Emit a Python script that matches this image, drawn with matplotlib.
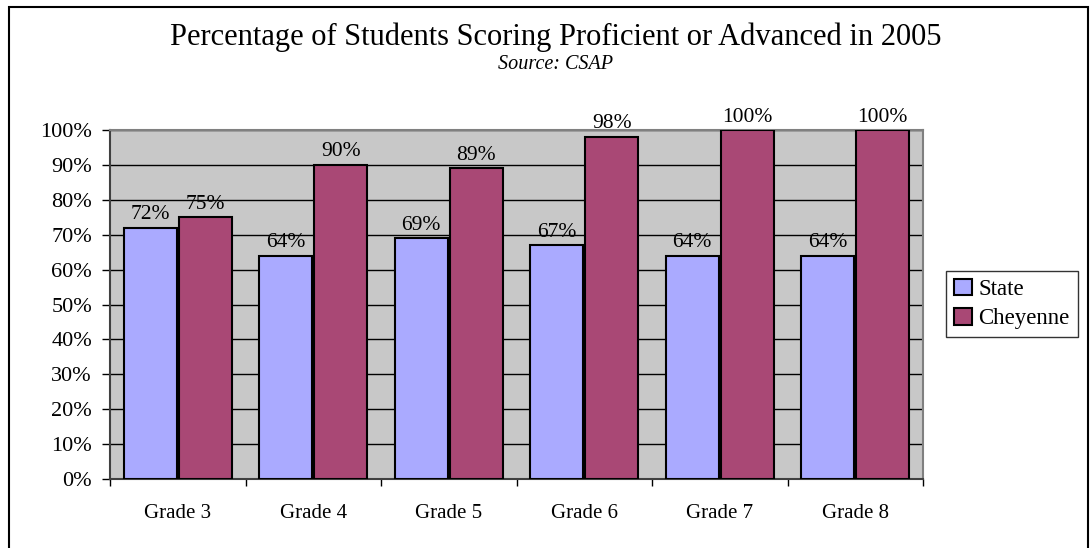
import matplotlib.pyplot as plt
from matplotlib.patches import Rectangle
import numpy as np

# 数据
grades = ['Grade 3', 'Grade 4', 'Grade 5', 'Grade 6', 'Grade 7', 'Grade 8']
state = [72, 64, 69, 67, 64, 64]
cheyenne = [75, 90, 89, 98, 100, 100]


def main():
    plt.rcParams['font.family'] = ['Liberation Serif', 'DejaVu Serif']
    fig = plt.figure(figsize=(10.9, 5.48), dpi=100)
    W, H = 1090, 548

    # 外框
    fig.patches.append(Rectangle((9 / W, -0.02), 1079 / W, 1 - 7 / H + 0.02,
                                 transform=fig.transFigure, fill=False,
                                 edgecolor='black', linewidth=1.5))

    ax = fig.add_axes([110 / W, 1 - 479 / H, 813 / W, 349 / H])
    ax.set_facecolor('#c8c8c8')

    x = np.arange(len(grades))
    bw = 0.39
    ax.bar(x - bw / 2 - 0.008, state, width=bw, color='#aaaaff',
           edgecolor='black', linewidth=1.5, label='State', zorder=3)
    ax.bar(x + bw / 2 + 0.008, cheyenne, width=bw, color='#a94875',
           edgecolor='black', linewidth=1.5, label='Cheyenne', zorder=3)

    # 数值标签
    for i, v in enumerate(state):
        ax.text(x[i] - bw / 2 - 0.008, v + 1.0, '%d%%' % v, ha='center',
                va='bottom', fontsize=15.5)
    for i, v in enumerate(cheyenne):
        ax.text(x[i] + bw / 2 + 0.008, v + 1.0, '%d%%' % v, ha='center',
                va='bottom', fontsize=15.5)

    ax.set_xlim(-0.5, len(grades) - 0.5)
    ax.set_ylim(0, 100)
    ax.set_yticks(range(0, 101, 10))
    ax.set_yticklabels(['%d%%' % t for t in range(0, 101, 10)], fontsize=16)
    ax.set_xticks(np.arange(-0.5, len(grades), 1.0))
    ax.set_xticklabels([])
    ax.set_xticks(x, minor=True)
    ax.set_xticklabels(grades, minor=True, fontsize=15)
    ax.tick_params(axis='x', which='minor', length=0, pad=18)
    ax.tick_params(axis='x', which='major', length=5, width=1, direction='out')
    ax.tick_params(axis='y', length=6, width=1, direction='out', pad=7)
    ax.yaxis.grid(True, color='black', linewidth=1, zorder=0)
    ax.set_axisbelow(True)
    for s in ['left', 'bottom']:
        ax.spines[s].set_color('#404040')
        ax.spines[s].set_linewidth(1.5)
    for s in ['top', 'right']:
        ax.spines[s].set_color('#808080')
        ax.spines[s].set_linewidth(1.5)

    fig.text(556 / W, 1 - 37 / H, 'Percentage of Students Scoring Proficient or Advanced in 2005',
             ha='center', va='center', fontsize=22)
    fig.text(556 / W, 1 - 65 / H, 'Source: CSAP', ha='center', va='center',
             fontsize=14.5, style='italic')

    leg = fig.legend(loc='center', bbox_to_anchor=(1012 / W, 1 - 304 / H),
                     fontsize=16.5, frameon=True, fancybox=False,
                     edgecolor='black', handlelength=0.75, handleheight=0.75,
                     handletextpad=0.3, borderpad=0.35, labelspacing=0.35,
                     borderaxespad=0)
    leg.get_frame().set_linewidth(1)

    plt.savefig('out.png', dpi=100)


if __name__ == '__main__':
    main()
